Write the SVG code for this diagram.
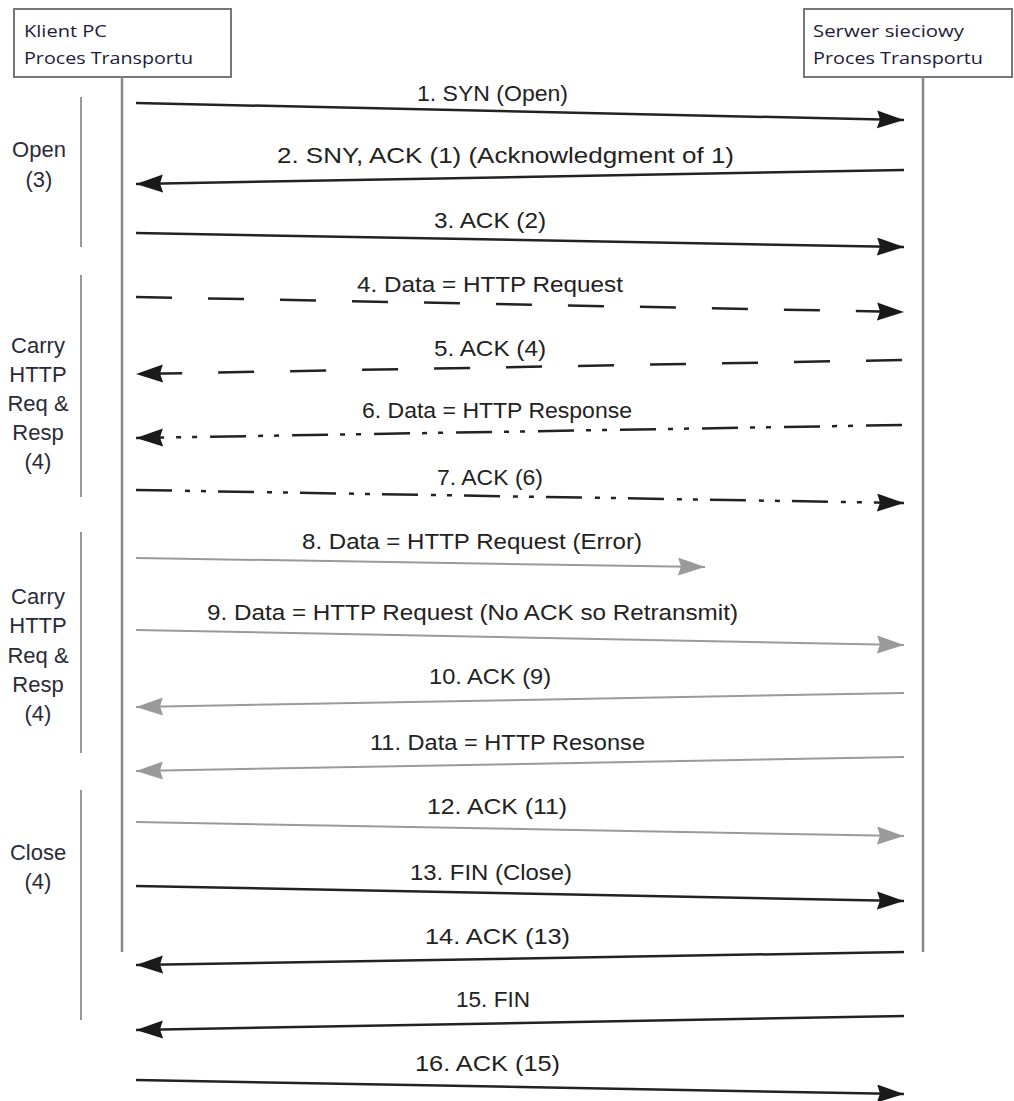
<svg xmlns="http://www.w3.org/2000/svg" width="1014" height="1101" viewBox="0 0 1014 1101">
<style>
.box{fill:#fff;stroke:#777;stroke-width:2}
.hdr{font-family:"Open Sans","Liberation Sans",sans-serif;font-size:17px;font-weight:500;fill:#1e1a3a}
.life{stroke:#888;stroke-width:2.5}
.brk{stroke:#999;stroke-width:2}
.side{font-family:"Liberation Sans",Arial,sans-serif;font-size:22px;fill:#2a2a3a;text-anchor:middle}
.lbl{font-family:"Liberation Sans",Arial,sans-serif;font-size:22px;fill:#222}
.blk{stroke:#222;stroke-width:2.5;fill:none;marker-end:url(#ab)}
.gry{stroke:#9a9a9a;stroke-width:2;fill:none;marker-end:url(#ag)}
.dash{stroke-dasharray:36 36}
.dd{stroke-dasharray:36 13 5 11 5 12}
</style>
<defs>
<marker id="ab" markerUnits="userSpaceOnUse" markerWidth="28" markerHeight="20" refX="27" refY="9" orient="auto" viewBox="0 0 28 20">
<path d="M0,0 L27,9 L0,18 L3,9 z" fill="#1a1a1a"/>
</marker>
<marker id="ag" markerUnits="userSpaceOnUse" markerWidth="28" markerHeight="20" refX="27" refY="9" orient="auto" viewBox="0 0 28 20">
<path d="M0,0 L27,9 L0,18 L3,9 z" fill="#9a9a9a"/>
</marker>
</defs>

<g id="client">
<rect class="box" x="14" y="9" width="217" height="68"/>
<text class="hdr" x="24" y="37" textLength="83" lengthAdjust="spacingAndGlyphs">Klient PC</text>
<text class="hdr" x="24" y="64" textLength="169" lengthAdjust="spacingAndGlyphs">Proces Transportu</text>
<line class="life" x1="122" y1="77" x2="122" y2="952"/>
</g>

<g id="server">
<rect class="box" x="804" y="9" width="208" height="68"/>
<text class="hdr" x="813" y="37" textLength="151" lengthAdjust="spacingAndGlyphs">Serwer sieciowy</text>
<text class="hdr" x="813" y="64" textLength="170" lengthAdjust="spacingAndGlyphs">Proces Transportu</text>
<line class="life" x1="923" y1="77" x2="923" y2="952"/>
</g>

<g id="phase-open">
<line class="brk" x1="81" y1="97" x2="81" y2="247"/>
<text class="side" x="39" y="157">Open</text>
<text class="side" x="39" y="187">(3)</text>
</g>

<g id="phase-carry1">
<line class="brk" x1="81" y1="275" x2="81" y2="497"/>
<text class="side" x="38" y="353">Carry</text>
<text class="side" x="38" y="382">HTTP</text>
<text class="side" x="38" y="411">Req &amp;</text>
<text class="side" x="38" y="440">Resp</text>
<text class="side" x="38" y="469">(4)</text>
</g>

<g id="phase-carry2">
<line class="brk" x1="81" y1="532" x2="81" y2="753"/>
<text class="side" x="38" y="604">Carry</text>
<text class="side" x="38" y="633">HTTP</text>
<text class="side" x="38" y="663">Req &amp;</text>
<text class="side" x="38" y="692">Resp</text>
<text class="side" x="38" y="721">(4)</text>
</g>

<g id="phase-close">
<line class="brk" x1="81" y1="790" x2="81" y2="1020"/>
<text class="side" x="38" y="860">Close</text>
<text class="side" x="38" y="889">(4)</text>
</g>

<g id="connectors">
<line class="blk" x1="136" y1="103" x2="904" y2="120"/>
<line class="blk" x1="904" y1="170" x2="136" y2="184"/>
<line class="blk" x1="136" y1="233" x2="904" y2="247"/>
<line class="blk dash" x1="136" y1="297" x2="904" y2="312"/>
<line class="blk dash" x1="902" y1="360" x2="136" y2="374"/>
<line class="blk dd" x1="902" y1="425" x2="136" y2="438"/>
<line class="blk dd" x1="136" y1="490" x2="904" y2="503"/>
<line class="gry" x1="136" y1="558" x2="705" y2="567"/>
<line class="gry" x1="136" y1="630" x2="904" y2="645"/>
<line class="gry" x1="904" y1="693" x2="136" y2="707"/>
<line class="gry" x1="904" y1="757" x2="136" y2="771"/>
<line class="gry" x1="136" y1="822" x2="904" y2="836"/>
<line class="blk" x1="136" y1="886" x2="904" y2="901"/>
<line class="blk" x1="904" y1="952" x2="136" y2="965"/>
<line class="blk" x1="904" y1="1016" x2="136" y2="1030"/>
<line class="blk" x1="136" y1="1080" x2="904" y2="1094"/>
</g>

<g id="labels">
<text class="lbl" x="417" y="101" textLength="151" lengthAdjust="spacingAndGlyphs">1. SYN (Open)</text>
<text class="lbl" x="277" y="163" textLength="457" lengthAdjust="spacingAndGlyphs">2. SNY, ACK (1) (Acknowledgment of 1)</text>
<text class="lbl" x="434" y="228" textLength="112" lengthAdjust="spacingAndGlyphs">3. ACK (2)</text>
<text class="lbl" x="357" y="292" textLength="266" lengthAdjust="spacingAndGlyphs">4. Data = HTTP Request</text>
<text class="lbl" x="434" y="356" textLength="112" lengthAdjust="spacingAndGlyphs">5. ACK (4)</text>
<text class="lbl" x="362" y="418" textLength="270" lengthAdjust="spacingAndGlyphs">6. Data = HTTP Response</text>
<text class="lbl" x="437" y="485" textLength="106" lengthAdjust="spacingAndGlyphs">7. ACK (6)</text>
<text class="lbl" x="302" y="549" textLength="340" lengthAdjust="spacingAndGlyphs">8. Data = HTTP Request (Error)</text>
<text class="lbl" x="207" y="620" textLength="531" lengthAdjust="spacingAndGlyphs">9. Data = HTTP Request (No ACK so Retransmit)</text>
<text class="lbl" x="429" y="684" textLength="122" lengthAdjust="spacingAndGlyphs">10. ACK (9)</text>
<text class="lbl" x="370" y="750" textLength="275" lengthAdjust="spacingAndGlyphs">11. Data = HTTP Resonse</text>
<text class="lbl" x="427" y="814" textLength="140" lengthAdjust="spacingAndGlyphs">12. ACK (11)</text>
<text class="lbl" x="410" y="880" textLength="162" lengthAdjust="spacingAndGlyphs">13. FIN (Close)</text>
<text class="lbl" x="425" y="944" textLength="145" lengthAdjust="spacingAndGlyphs">14. ACK (13)</text>
<text class="lbl" x="456" y="1007" textLength="74" lengthAdjust="spacingAndGlyphs">15. FIN</text>
<text class="lbl" x="415" y="1071" textLength="145" lengthAdjust="spacingAndGlyphs">16. ACK (15)</text>
</g>
</svg>
